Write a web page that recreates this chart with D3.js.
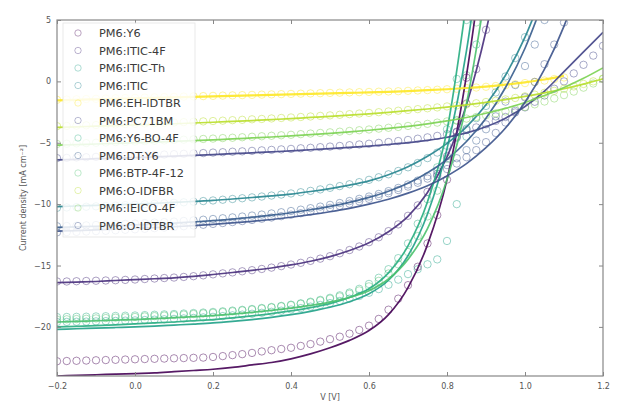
<!DOCTYPE html>
<html><head><meta charset="utf-8">
<script src="https://cdn.jsdelivr.net/npm/d3@7"></script>
<style>body{margin:0;background:#fff}svg{display:block}text{font-family:"DejaVu Sans",sans-serif}</style>
</head><body><svg id="c" width="617" height="408"></svg>
<script>
const seriesNames = ["PM6:Y6","PM6:ITIC-4F","PM6:ITIC-Th","PM6:ITIC","PM6:EH-IDTBR","PM6:PC71BM","PM6:Y6-BO-4F","PM6:DT:Y6","PM6:BTP-4F-12","PM6:O-IDFBR","PM6:IEICO-4F","PM6:O-IDTBR"];
const seriesColors = ["#440154","#472d7b","#1fa187","#25848e","#fde725","#414487","#27ad81","#365c8d","#4ac16d","#b8de29","#7ad151","#3b528b"];
const xTicks = [-0.2,0.0,0.2,0.4,0.6,0.8,1.0,1.2];
const yTicks = [5,0,-5,-10,-15,-20];
const vFit = [-0.2,-0.15,-0.1,-0.05,0,0.05,0.1,0.15,0.2,0.25,0.3,0.35,0.4,0.45,0.5,0.55,0.6,0.65,0.7,0.75,0.8,0.85,0.9,0.95,1.0,1.05,1.1,1.15,1.2];
const vPts = [-0.2,-0.175,-0.15,-0.125,-0.1,-0.075,-0.05,-0.025,0,0.025,0.05,0.075,0.1,0.125,0.15,0.175,0.2,0.225,0.25,0.275,0.3,0.325,0.35,0.375,0.4,0.425,0.45,0.475,0.5,0.525,0.55,0.575,0.6,0.625,0.65,0.675,0.7,0.725,0.75,0.775,0.8,0.825,0.85,0.875,0.9,0.925,0.95,0.975,1.0,1.025,1.05,1.075,1.1,1.125,1.15,1.175,1.2];

const fitY6 = [-24.0,-23.95,-23.9,-23.85,-23.8,-23.75,-23.65,-23.55,-23.45,-23.3,-23.1,-22.9,-22.6,-22.2,-21.7,-21.1,-20.3,-19.0,-16.8,-13.3,-8.0,0.5,12];
const ptsY6 = [-22.8,-22.78,-22.76,-22.74,-22.72,-22.7,-22.68,-22.66,-22.64,-22.62,-22.6,-22.58,-22.56,-22.54,-22.52,-22.5,-22.45,-22.38,-22.3,-22.22,-22.12,-22.0,-21.9,-21.8,-21.7,-21.55,-21.4,-21.2,-21.0,-20.8,-20.55,-20.25,-19.9,-19.35,-18.6,-17.7,-16.6,-15.1,-13.2,-10.9,-8.0,-4.5,0.3,5.5];
const fitITIC4F = [-16.4,-16.35,-16.3,-16.22,-16.15,-16.08,-16.0,-15.88,-15.73,-15.57,-15.4,-15.2,-14.95,-14.65,-14.27,-13.78,-13.15,-12.25,-11.0,-9.05,-6.15,-1.9,4.1,12];
const ptsITIC4F = [-16.3,-16.3,-16.28,-16.26,-16.24,-16.22,-16.2,-16.17,-16.14,-16.1,-16.06,-16.02,-15.98,-15.93,-15.87,-15.8,-15.72,-15.64,-15.56,-15.47,-15.38,-15.28,-15.17,-15.05,-14.92,-14.78,-14.62,-14.44,-14.24,-14.0,-13.74,-13.45,-13.1,-12.7,-12.2,-11.65,-10.95,-10.1,-9.0,-7.7,-6.1,-4.1,-1.8,1.0,4.2,8.0];
const fitITICTh = [-20.2,-20.15,-20.1,-20.05,-20.0,-19.93,-19.85,-19.77,-19.68,-19.55,-19.4,-19.22,-19.0,-18.73,-18.4,-17.95,-17.3,-16.2,-14.2,-10.8,-5.5,2.5,14];
const ptsITICTh = [-19.6,-19.59,-19.58,-19.57,-19.55,-19.53,-19.51,-19.49,-19.47,-19.44,-19.41,-19.38,-19.35,-19.31,-19.27,-19.23,-19.18,-19.12,-19.06,-19.0,-18.93,-18.85,-18.77,-18.68,-18.58,-18.47,-18.35,-18.21,-18.06,-17.89,-17.7,-17.48,-17.22,-16.92,-16.57,-16.15,-15.7,-15.3,-14.9,-14.5,-13.0,-10.0,-4.5,3.0];
const fitITIC = [-10.2,-10.15,-10.1,-10.05,-10.0,-9.93,-9.86,-9.78,-9.7,-9.58,-9.46,-9.33,-9.18,-8.97,-8.73,-8.45,-8.1,-7.6,-6.95,-6.1,-5.05,-3.7,-1.9,0.5,3.6,7.6];
const ptsITIC = [-10.3,-10.27,-10.24,-10.21,-10.18,-10.15,-10.12,-10.08,-10.05,-10.01,-9.97,-9.93,-9.89,-9.85,-9.8,-9.75,-9.7,-9.64,-9.58,-9.52,-9.45,-9.38,-9.3,-9.22,-9.13,-9.03,-8.92,-8.8,-8.67,-8.53,-8.38,-8.21,-8.02,-7.81,-7.57,-7.3,-7.0,-6.65,-6.25,-5.8,-5.25,-4.6,-3.85,-3.0,-2.0,-0.9,0.4,1.9,3.6,5.6];
const fitEHIDTBR = [-1.55,-1.5,-1.46,-1.42,-1.38,-1.34,-1.3,-1.26,-1.22,-1.18,-1.14,-1.1,-1.06,-1.02,-0.98,-0.94,-0.9,-0.85,-0.79,-0.72,-0.64,-0.54,-0.42,-0.27,-0.08,0.15,0.45];
const ptsEHIDTBR = [-1.5,-1.48,-1.46,-1.44,-1.42,-1.4,-1.38,-1.36,-1.34,-1.32,-1.3,-1.28,-1.26,-1.24,-1.22,-1.2,-1.18,-1.16,-1.14,-1.12,-1.1,-1.08,-1.06,-1.04,-1.02,-1.0,-0.98,-0.96,-0.94,-0.92,-0.9,-0.88,-0.86,-0.84,-0.82,-0.8,-0.77,-0.74,-0.71,-0.68,-0.64,-0.6,-0.55,-0.5,-0.44,-0.38,-0.31,-0.23,-0.14,-0.04,0.07,0.19,0.32];
const fitPC71BM = [-6.4,-6.35,-6.3,-6.25,-6.2,-6.15,-6.09,-6.03,-5.96,-5.89,-5.82,-5.74,-5.66,-5.57,-5.48,-5.38,-5.27,-5.14,-4.99,-4.8,-4.55,-4.2,-3.7,-3.0,-2.05,-0.8,0.8,2.4,4.0];
const ptsPC71BM = [-6.25,-6.23,-6.2,-6.18,-6.15,-6.13,-6.1,-6.07,-6.05,-6.02,-5.99,-5.96,-5.93,-5.9,-5.87,-5.84,-5.8,-5.77,-5.73,-5.7,-5.66,-5.62,-5.58,-5.54,-5.5,-5.45,-5.41,-5.36,-5.31,-5.26,-5.2,-5.14,-5.08,-5.01,-4.94,-4.86,-4.77,-4.67,-4.56,-4.44,-4.3,-4.14,-3.96,-3.75,-3.5,-3.22,-2.9,-2.53,-2.12,-1.66,-1.15,-0.6,0.0,0.65,1.35,2.1,2.9];
const fitY6BO4F = [-20.0,-19.95,-19.9,-19.83,-19.75,-19.68,-19.6,-19.5,-19.4,-19.26,-19.1,-18.92,-18.7,-18.43,-18.1,-17.6,-16.9,-15.6,-13.4,-9.8,-4.0,6.5];
const ptsY6BO4F = [-19.2,-19.19,-19.18,-19.17,-19.15,-19.13,-19.11,-19.09,-19.07,-19.04,-19.01,-18.98,-18.95,-18.91,-18.87,-18.83,-18.78,-18.73,-18.67,-18.61,-18.54,-18.46,-18.38,-18.29,-18.19,-18.08,-17.95,-17.8,-17.63,-17.43,-17.2,-16.9,-16.5,-16.0,-15.3,-14.4,-13.2,-11.6,-9.6,-7.0,-3.9,0.2,5.0];
const fitDTY6 = [-11.9,-11.85,-11.8,-11.74,-11.68,-11.62,-11.54,-11.45,-11.35,-11.22,-11.07,-10.9,-10.7,-10.46,-10.18,-9.85,-9.45,-8.95,-8.3,-7.45,-6.35,-4.9,-3.0,-0.5,2.7,6.8];
const ptsDTY6 = [-11.8,-11.78,-11.76,-11.73,-11.7,-11.67,-11.64,-11.61,-11.58,-11.54,-11.5,-11.46,-11.42,-11.37,-11.32,-11.27,-11.21,-11.15,-11.08,-11.01,-10.93,-10.85,-10.76,-10.66,-10.56,-10.45,-10.33,-10.2,-10.06,-9.91,-9.75,-9.57,-9.38,-9.17,-8.94,-8.68,-8.4,-8.08,-7.72,-7.3,-6.82,-6.26,-5.6,-4.82,-3.9,-2.85,-1.65,-0.3,1.25,3.0,5.0,7.2];
const fitBTP4F12 = [-19.6,-19.55,-19.5,-19.45,-19.4,-19.33,-19.25,-19.17,-19.08,-18.96,-18.82,-18.66,-18.47,-18.25,-17.98,-17.6,-17.05,-16.1,-14.5,-12.0,-8.0,-1.8,7.5];
const ptsBTP4F12 = [-19.4,-19.38,-19.36,-19.34,-19.31,-19.28,-19.25,-19.22,-19.19,-19.15,-19.12,-19.08,-19.04,-19.0,-18.95,-18.9,-18.85,-18.79,-18.73,-18.66,-18.59,-18.51,-18.42,-18.33,-18.23,-18.12,-18.0,-17.86,-17.7,-17.52,-17.3,-17.03,-16.7,-16.25,-15.65,-14.9,-13.9,-12.6,-11.0,-8.9,-6.3,-3.2,0.5,4.8];
const fitOIDFBR = [-3.75,-3.7,-3.65,-3.6,-3.55,-3.5,-3.45,-3.39,-3.33,-3.26,-3.19,-3.11,-3.03,-2.94,-2.85,-2.75,-2.64,-2.52,-2.39,-2.25,-2.09,-1.91,-1.71,-1.48,-1.22,-0.93,-0.6,-0.22,0.2];
const ptsOIDFBR = [-3.65,-3.63,-3.61,-3.58,-3.56,-3.53,-3.51,-3.48,-3.46,-3.43,-3.41,-3.38,-3.35,-3.32,-3.29,-3.26,-3.23,-3.2,-3.16,-3.13,-3.09,-3.06,-3.02,-2.98,-2.94,-2.9,-2.86,-2.81,-2.77,-2.72,-2.67,-2.62,-2.57,-2.51,-2.45,-2.39,-2.33,-2.26,-2.19,-2.12,-2.04,-1.96,-1.87,-1.78,-1.68,-1.58,-1.47,-1.35,-1.22,-1.08,-0.93,-0.77,-0.6,-0.41,-0.21,0.0,0.22];
const fitIEICO4F = [-5.2,-5.15,-5.1,-5.05,-5.0,-4.95,-4.89,-4.83,-4.76,-4.69,-4.61,-4.53,-4.44,-4.34,-4.23,-4.11,-3.98,-3.83,-3.66,-3.46,-3.22,-2.94,-2.6,-2.2,-1.72,-1.15,-0.5,0.25,1.1];
const ptsIEICO4F = [-5.1,-5.08,-5.05,-5.03,-5.0,-4.98,-4.95,-4.93,-4.9,-4.87,-4.84,-4.81,-4.78,-4.75,-4.72,-4.69,-4.66,-4.62,-4.59,-4.55,-4.51,-4.47,-4.43,-4.39,-4.35,-4.3,-4.25,-4.2,-4.15,-4.1,-4.04,-3.98,-3.92,-3.85,-3.78,-3.71,-3.63,-3.55,-3.46,-3.36,-3.26,-3.15,-3.03,-2.9,-2.76,-2.61,-2.45,-2.27,-2.08,-1.87,-1.64,-1.39,-1.12,-0.83,-0.51,-0.17,0.2];
const fitOIDTBR = [-12.2,-12.15,-12.1,-12.04,-11.98,-11.91,-11.84,-11.75,-11.65,-11.53,-11.4,-11.25,-11.07,-10.86,-10.62,-10.34,-10.0,-9.6,-9.1,-8.5,-7.7,-6.7,-5.4,-3.8,-1.7,1.0,4.5,9.0];
const ptsOIDTBR = [-12.3,-12.28,-12.26,-12.23,-12.2,-12.17,-12.13,-12.09,-12.05,-12.01,-11.96,-11.91,-11.86,-11.8,-11.74,-11.68,-11.61,-11.54,-11.46,-11.38,-11.29,-11.19,-11.09,-10.98,-10.86,-10.74,-10.6,-10.46,-10.3,-10.14,-9.96,-9.77,-9.57,-9.35,-9.11,-8.85,-8.57,-8.26,-7.92,-7.55,-7.14,-6.69,-6.18,-5.6,-4.95,-4.2,-3.35,-2.4,-1.3,-0.05,1.4,3.0,4.8,6.9];

const fits = [fitY6,fitITIC4F,fitITICTh,fitITIC,fitEHIDTBR,fitPC71BM,fitY6BO4F,fitDTY6,fitBTP4F12,fitOIDFBR,fitIEICO4F,fitOIDTBR];
const pts = [ptsY6,ptsITIC4F,ptsITICTh,ptsITIC,ptsEHIDTBR,ptsPC71BM,ptsY6BO4F,ptsDTY6,ptsBTP4F12,ptsOIDFBR,ptsIEICO4F,ptsOIDTBR];

const W=617,H=408, m={l:57,r:14,t:20,b:32};
const svg=d3.select("#c");
const x=d3.scaleLinear().domain([-0.2,1.2]).range([m.l,W-m.r]);
const y=d3.scaleLinear().domain([-24,5]).range([H-m.b,m.t]);

svg.append("clipPath").attr("id","clip").append("rect")
  .attr("x",m.l).attr("y",m.t).attr("width",W-m.l-m.r).attr("height",H-m.t-m.b);

const plot=svg.append("g").attr("clip-path","url(#clip)");
const line=d3.line().x(d=>x(d[0])).y(d=>y(d[1])).curve(d3.curveMonotoneX);

seriesNames.forEach((name,i)=>{
  const c=seriesColors[i];
  const g=plot.append("g");
  g.selectAll("circle").data(pts[i].map((j,k)=>[vPts[k],j])).join("circle")
    .attr("cx",d=>x(d[0])).attr("cy",d=>y(d[1])).attr("r",3.7)
    .attr("fill","none").attr("stroke",c).attr("stroke-width",1).attr("stroke-opacity",0.45);
});
seriesNames.forEach((name,i)=>{
  plot.append("path").datum(fits[i].map((j,k)=>[vFit[k],j]))
    .attr("d",line).attr("fill","none").attr("stroke",seriesColors[i])
    .attr("stroke-width",i===4?2.2:1.7).attr("stroke-opacity",0.9);
});

// axes (matplotlib-like: inward ticks on all sides)
const axCol="#888";
const fmtX=d=>d3.format(".1f")(d).replace("-","\u2212");
const ax=svg.append("g");
ax.append("g").attr("transform",`translate(0,${H-m.b})`)
  .call(d3.axisBottom(x).tickValues(xTicks).tickSizeInner(-4).tickSizeOuter(0).tickPadding(7).tickFormat(fmtX));
ax.append("g").attr("transform",`translate(0,${m.t})`)
  .call(d3.axisTop(x).tickValues(xTicks).tickSizeInner(-4).tickSizeOuter(0).tickFormat(""));
ax.append("g").attr("transform",`translate(${m.l},0)`)
  .call(d3.axisLeft(y).tickValues(yTicks).tickSizeInner(-4).tickSizeOuter(0).tickPadding(6).tickFormat(d=>String(d).replace("-","\u2212")));
ax.append("g").attr("transform",`translate(${W-m.r},0)`)
  .call(d3.axisRight(y).tickValues(yTicks).tickSizeInner(-4).tickSizeOuter(0).tickFormat(""));
ax.selectAll(".domain").remove();
ax.selectAll("line").attr("stroke",axCol);
ax.selectAll("text").attr("fill","#555").style("font-size","8px");
svg.append("rect").attr("x",m.l).attr("y",m.t).attr("width",W-m.l-m.r).attr("height",H-m.t-m.b)
  .attr("fill","none").attr("stroke",axCol).attr("stroke-width",1.2);

svg.append("text").attr("x",(m.l+W-m.r)/2).attr("y",400).attr("text-anchor","middle")
  .attr("fill","#555").style("font-size","8px").text("V [V]");
svg.append("text").attr("transform",`translate(26,${(m.t+H-m.b)/2}) rotate(-90)`).attr("text-anchor","middle")
  .attr("fill","#555").style("font-size","8px").text("Current density [mA cm\u207B\u00B2]");

// legend
const lg=svg.append("g");
lg.append("rect").attr("x",63).attr("y",23).attr("width",132).attr("height",214)
  .attr("fill","#fff").attr("fill-opacity",0.85).attr("stroke","#e4e4e4").attr("stroke-width",0.8);
seriesNames.forEach((name,i)=>{
  const yy=33+i*17.5;
  lg.append("circle").attr("cx",78).attr("cy",yy).attr("r",3.2).attr("fill","none")
    .attr("stroke",seriesColors[i]).attr("stroke-opacity",0.4).attr("stroke-width",0.9);
  lg.append("text").attr("x",99).attr("y",yy+4).attr("fill","#3a3a3a").style("font-size","11.3px").text(name);
});
</script></body></html>
